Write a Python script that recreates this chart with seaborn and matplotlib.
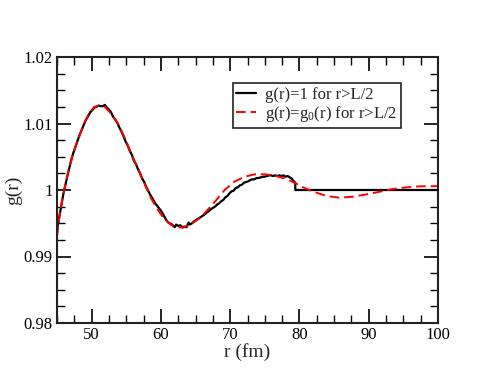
import matplotlib
matplotlib.use("Agg")
import matplotlib.pyplot as plt
import seaborn as sns
import pandas as pd
from matplotlib.ticker import MultipleLocator, FixedLocator, FixedFormatter

sns.set_style("white")
plt.rcParams['font.family'] = ['Liberation Serif', 'DejaVu Serif']
plt.rcParams['mathtext.fontset'] = 'custom'
plt.rcParams['mathtext.rm'] = 'Liberation Serif'
plt.rcParams['mathtext.it'] = 'Liberation Serif:italic'

# black curve: g(r)=1 for r>L/2
r_black = [45.0, 45.3, 45.6, 45.9, 46.2, 46.5, 46.8, 47.1, 47.4, 47.7, 48.0, 48.3, 48.6, 48.9,
           49.2, 49.5, 49.8, 50.1, 50.4, 50.7, 51.0, 51.3, 51.6, 51.9, 52.2, 52.5, 52.8, 53.1,
           53.4, 53.7, 54.0, 54.3, 54.6, 54.9, 55.2, 55.5, 55.8, 56.1, 56.4, 56.7, 57.0, 57.3,
           57.6, 57.9, 58.2, 58.5, 58.8, 59.1, 59.4, 59.7, 60.0, 60.3, 60.6, 60.9, 61.2, 61.5,
           61.8, 62.0, 62.2, 62.5, 62.8, 63.1, 63.4, 63.7, 64.0, 64.2, 64.5, 64.8, 65.1, 65.4,
           65.7, 66.0, 66.3, 66.6, 66.9, 67.2, 67.5, 67.8, 68.1, 68.4, 68.7, 69.0, 69.3, 69.6,
           69.9, 70.2, 70.5, 70.8, 71.1, 71.4, 71.7, 72.0, 72.3, 72.6, 72.9, 73.2, 73.5, 73.8,
           74.1, 74.4, 74.7, 75.0, 75.3, 75.6, 75.9, 76.2, 76.5, 76.8, 77.1, 77.4, 77.7, 78.0,
           78.3, 78.6, 78.9, 79.1, 79.3, 79.4, 79.4, 100.0]
g_black = [0.9940, 0.9958, 0.9975, 0.9993, 1.0007, 1.0021, 1.0034, 1.0047, 1.0057, 1.0066,
           1.0075, 1.0084, 1.0091, 1.0099, 1.0106, 1.0111, 1.0117, 1.0120, 1.0124, 1.0125,
           1.0127, 1.0126, 1.0126, 1.0128, 1.0124, 1.0121, 1.0117, 1.0110, 1.0106, 1.0101,
           1.0094, 1.0088, 1.0081, 1.0073, 1.0067, 1.0059, 1.0053, 1.0044, 1.0039, 1.0031,
           1.0025, 1.0017, 1.0012, 1.0004, 0.9998, 0.9992, 0.9987, 0.9981, 0.9977, 0.9973,
           0.9969, 0.9964, 0.9958, 0.9953, 0.9950, 0.9949, 0.9946, 0.9944, 0.9948, 0.9946,
           0.9947, 0.9944, 0.9945, 0.9944, 0.9951, 0.9948, 0.9950, 0.9953, 0.9955, 0.9957,
           0.9959, 0.9961, 0.9963, 0.9966, 0.9968, 0.9971, 0.9973, 0.9975, 0.9978, 0.9980,
           0.9983, 0.9985, 0.9989, 0.9991, 0.9995, 0.9998, 0.9999, 1.0003, 1.0004, 1.0007,
           1.0008, 1.0011, 1.0012, 1.0013, 1.0015, 1.0016, 1.0016, 1.0018, 1.0018, 1.0019,
           1.0020, 1.0020, 1.0021, 1.0022, 1.0022, 1.0021, 1.0022, 1.0021, 1.0022, 1.0021,
           1.0022, 1.0020, 1.0021, 1.0019, 1.0017, 1.0014, 1.0012, 1.0011, 1.0000, 1.0000]

# red dashed curve: g(r)=g0(r) for r>L/2
r_red = [45.0, 45.4, 45.85, 46.35, 46.8, 47.5, 48.3, 49.0, 49.7, 50.4, 51.2, 51.9, 52.8,
         53.8, 54.8, 55.7, 56.7, 57.7, 58.6, 59.6, 60.5, 61.5, 62.5, 63.2, 64.4, 65.8, 66.3,
         67.8, 69.2, 70.6, 72.1, 73.5, 75.0, 76.4, 77.8, 79.3, 80.3, 82.0, 83.9, 85.8, 87.8,
         89.7, 91.6, 93.5, 95.5, 97.4, 100.0]
g_red = [0.9930, 0.9963, 0.9991, 1.0015, 1.0035, 1.0060, 1.0083, 1.0102, 1.0117, 1.0125,
         1.0127, 1.0125, 1.0115, 1.0100, 1.0078, 1.0055, 1.0032, 1.0008, 0.99870, 0.99695,
         0.99560, 0.99474, 0.99440, 0.99434, 0.99490, 0.99590, 0.99650, 0.99825, 1.0000,
         1.00125, 1.0020, 1.00236, 1.00236, 1.00216, 1.00175, 1.0011, 1.0005, 0.99975,
         0.9991, 0.99884, 0.9990, 0.99935, 0.99975, 1.00015, 1.0004, 1.00055, 1.00058]

label_black = "g(r)=1 for r>L/2"
label_red = "g(r)=g$_0$(r) for r>L/2"
x_ticks = [50, 60, 70, 80, 90, 100]
x_ticklabels = ["50", "60", "70", "80", "90", "100"]
y_ticks = [0.98, 0.99, 1.0, 1.01, 1.02]
y_ticklabels = ["0.98", "0.99", "1", "1.01", "1.02"]

df_black = pd.DataFrame({"r": r_black, "g": g_black})
df_red = pd.DataFrame({"r": r_red, "g": g_red})

fig = plt.figure(figsize=(4.93, 3.81), dpi=100)
ax = fig.add_axes([57 / 493, 1 - 323 / 381, 381 / 493, 266 / 381])

sns.lineplot(data=df_black, x="r", y="g", ax=ax, estimator=None, sort=False,
             color="black", linewidth=1.6, label=label_black)
sns.lineplot(data=df_red, x="r", y="g", ax=ax, estimator=None, sort=False,
             color="#ff0000", linewidth=1.4, dashes=False, label=label_red)
ax.lines[1].set_dashes([5, 2.5])

ax.set_xlim(45, 100)
ax.set_ylim(0.98, 1.02)
ax.xaxis.set_major_locator(FixedLocator(x_ticks))
ax.xaxis.set_major_formatter(FixedFormatter(x_ticklabels))
ax.xaxis.set_minor_locator(MultipleLocator(2.5))
ax.yaxis.set_major_locator(FixedLocator(y_ticks))
ax.yaxis.set_major_formatter(FixedFormatter(y_ticklabels))
ax.yaxis.set_minor_locator(MultipleLocator(0.0025))

ax.tick_params(which="both", direction="in", top=True, right=True, bottom=True, left=True,
               colors="black", labelsize=12, pad=3)
ax.tick_params(which="major", length=10, width=1.2)
ax.tick_params(which="minor", length=5.5, width=1.0)
for s in ax.spines.values():
    s.set_visible(True)
    s.set_color("#222222")
    s.set_linewidth(1.5)

ax.set_xlabel("r (fm)", fontsize=14, labelpad=0)
ax.set_ylabel("g(r)", fontsize=14, labelpad=1)

leg = ax.legend(loc="upper right", bbox_to_anchor=(0.902, 0.901), fontsize=12,
                frameon=True, fancybox=False, shadow=False, handlelength=1.2,
                borderpad=0.22, labelspacing=0.05, handletextpad=0.5, borderaxespad=0)
leg.get_frame().set_edgecolor("#222222")
leg.get_frame().set_linewidth(1.2)
leg.get_frame().set_alpha(1)

fig.savefig("out.png", dpi=100)
